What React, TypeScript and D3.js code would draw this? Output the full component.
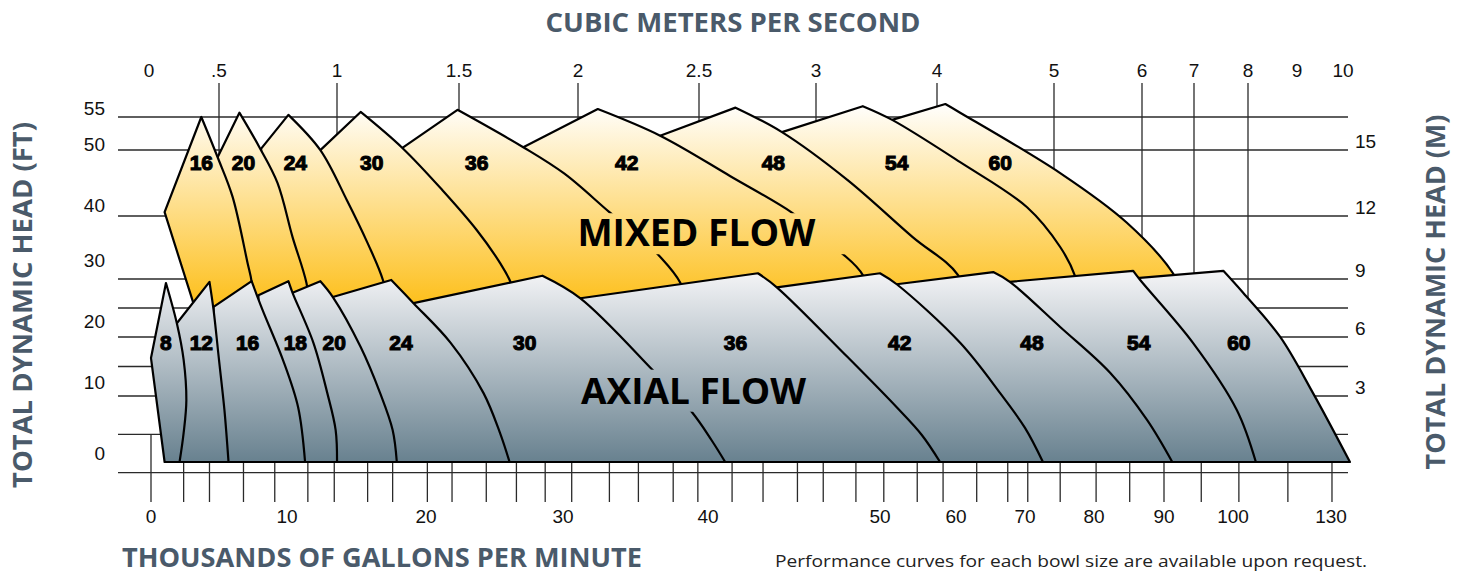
import { curveCatmullRom, line, scaleLinear } from "d3";

// ---- data ------------------------------------------------------------

// bottom axis, thousands of gallons per minute
const gpmTicks = [0, 10, 20, 30, 40, 50, 60, 70, 80, 90, 100, 130];
const gpmMinorTicks = [
  0, 2.4, 4.3, 6.8, 9.1, 11.5, 13.4, 15.8, 17.6, 20.1, 21.9, 24.4, 26.6, 28.7,
  30.6, 33.2, 35.2, 37.6, 39.3, 41.4, 43.2, 45.2, 46.7, 48.6, 50.5, 54.9, 58.3,
  63.0, 67.5, 70.4, 75.1, 80.3, 85.1, 90.0, 95.4, 101.8, 116.8, 130.3,
];

// top axis, cubic meters per second
const cmsTicks = [0, 0.5, 1, 1.5, 2, 2.5, 3, 4, 5, 6, 7, 8, 9, 10];
const cmsLabels = ["0", ".5", "1", "1.5", "2", "2.5", "3", "4", "5", "6", "7", "8", "9", "10"];
const cmsGridTicks = [0.5, 1, 1.5, 2, 2.5, 3, 4, 5, 6, 7, 8];

// left axis (ft) and right axis (m)
const ftTicks = [0, 10, 20, 30, 40, 50, 55];
const mTicks = [3, 6, 9, 12, 15];
const mGridLines = [16.5, 15, 12, 9, 7.5, 6, 4.5, 3, 1.05, -0.9];

type Pt = [number, number]; // [gpm thousands, ft]
interface Bowl {
  left: Pt[];
  peak: Pt;
  right: Pt[];
}

const mixedSizes = [16, 20, 24, 30, 36, 42, 48, 54, 60];
const mixedBowls: Bowl[] = [
  { left: [[3.6, 21], [1.0, 40.3]], peak: [3.7, 55], right: [[4.9, 49.3], [6.0, 42.8], [7.1, 31.1], [7.4, 27.9], [7.6, 21]] },
  { left: [[4.9, 21], [4.9, 49.3]], peak: [6.5, 55.6], right: [[8.0, 50.7], [9.3, 45.1], [10.4, 35.8], [11.4, 27.7], [11.8, 21]] },
  { left: [[8.1, 21], [8.1, 50.6]], peak: [10.1, 55.3], right: [[12.4, 50.4], [14.3, 42.3], [15.8, 34.7], [16.9, 28.2], [17.6, 21]] },
  { left: [[12.4, 21], [12.4, 50.4]], peak: [15.3, 55.7], right: [[18.3, 50.7], [21.2, 43.9], [23.7, 37.1], [25.4, 31.1], [26.2, 27.7], [27.0, 21]] },
  { left: [[18.3, 21], [18.3, 50.7]], peak: [22.3, 56.0], right: [[27.1, 50.8], [30.1, 46.6], [33.2, 40.3], [35.1, 36.2], [36.6, 32.5], [38.1, 27.7], [38.9, 21]] },
  { left: [[27.1, 21], [27.1, 50.8]], peak: [32.4, 56.1], right: [[36.7, 52.4], [41.3, 46.2], [44.9, 40.2], [46.5, 36.2], [47.7, 33.1], [49.0, 29.0], [49.7, 21]] },
  { left: [[36.7, 21], [36.7, 52.4]], peak: [41.6, 56.3], right: [[44.3, 52.9], [48.1, 45.6], [54.3, 35.8], [60.3, 29.0], [62.8, 21]] },
  { left: [[44.3, 21], [44.3, 52.9]], peak: [49.0, 56.5], right: [[51.6, 54.6], [60.6, 48.5], [70.3, 41.1], [75.1, 34.0], [77.2, 29.0], [78.7, 21]] },
  { left: [[51.6, 21], [51.6, 54.6]], peak: [58.6, 56.8], right: [[60.6, 55.6], [75.1, 46.7], [84.7, 38.4], [91.3, 29.3], [94.5, 21]] },
];
const mixedLabelGpm = [3.7, 6.8, 10.6, 16.1, 23.7, 34.4, 43.8, 52.2, 66.4];
const mixedLabelFt = 48.5;

const axialSizes = [8, 12, 16, 18, 20, 24, 30, 36, 42, 48, 54, 60];
const axialBowls: Bowl[] = [
  { left: [[1.0, 0], [0, 15.4]], peak: [1.1, 27.7], right: [[1.9, 21.1], [2.4, 15.1], [2.6, 8.7], [2.4, 4.1], [2.1, 0]] },
  { left: [[1.9, 0], [1.9, 21.1]], peak: [4.3, 27.9], right: [[4.6, 23.3], [5.0, 15.1], [5.4, 7.3], [5.7, 0]] },
  { left: [[4.6, 0], [4.6, 23.8]], peak: [7.4, 28.0], right: [[8.2, 23.3], [9.7, 15.1], [10.8, 7.7], [11.3, 0]] },
  { left: [[7.9, 0], [7.9, 25.7]], peak: [10.1, 28.0], right: [[10.4, 26.1], [11.9, 17.9], [12.9, 9.7], [13.5, 4.5], [13.6, 0]] },
  { left: [[10.4, 0], [10.4, 26.1]], peak: [12.4, 28.0], right: [[13.3, 25.4], [15.3, 17.2], [16.7, 9.7], [17.6, 4.5], [17.9, 0]] },
  { left: [[13.3, 0], [13.3, 25.4]], peak: [17.5, 28.2], right: [[19.1, 24.4], [21.8, 17.9], [24.2, 9.7], [25.4, 4.1], [26.1, 0]] },
  { left: [[19.1, 0], [19.1, 24.4]], peak: [28.5, 28.9], right: [[31.2, 25.2], [36.2, 13.4], [38.9, 7.0], [40.2, 3.1], [41.0, 0]] },
  { left: [[31.2, 0], [31.2, 25.2]], peak: [42.9, 29.3], right: [[44.0, 27.0], [48.1, 15.6], [52.2, 7.7], [55.5, 3.8], [57.9, 0]] },
  { left: [[44.0, 0], [44.0, 27.0]], peak: [50, 29.3], right: [[52.2, 27.5], [60.6, 17.9], [66.4, 9.7], [70, 4.8], [72.6, 0]] },
  { left: [[52.2, 0], [52.2, 27.5]], peak: [65.4, 29.5], right: [[67.8, 27.9], [75.1, 20.5], [82.3, 13.0], [87.6, 5.9], [91.2, 0]] },
  { left: [[67.8, 0], [67.8, 27.9]], peak: [85.6, 29.7], right: [[86.6, 28.2], [94.2, 17.9], [101.2, 7.3], [107.0, 0]] },
  { left: [[86.1, 0], [86.1, 28.5]], peak: [98.6, 29.7], right: [[103.1, 26.1], [114.4, 18.9], [124.5, 9.7], [135.8, 0]] },
];
const axialLabelGpm = [1.1, 3.7, 7.1, 10.6, 13.4, 18.2, 27.2, 41.6, 52.6, 71.0, 86.4, 101.8];
const axialLabelFt = 17.9;

const mixedTitleAt: Pt = [39.2, 36.5];
const axialTitleAt: Pt = [39.0, 9.9];

// ---- layout ----------------------------------------------------------

const W = 1463;
const H = 576;
// the printed axes are not linear, so every scale is piecewise
const gpmPx = [151, 287, 426, 563, 708, 880, 956, 1025, 1094, 1164, 1233, 1331];
const cmsPx = [149, 219, 337, 459, 578, 699, 816, 937, 1054, 1142, 1194, 1248, 1297, 1343];
const ftPx = [462, 391, 330, 269, 214, 153, 117];
const mPx = [396, 337, 279, 216, 150];
const gridLeft = 118;
const gridRight = 1348;

const x = scaleLinear().domain(gpmTicks).range(gpmPx);
const xTop = scaleLinear().domain(cmsTicks).range(cmsPx);
const y = scaleLinear().domain(ftTicks).range(ftPx);
const yM = scaleLinear().domain(mTicks).range(mPx);

const straight = line<Pt>()
  .x((d) => x(d[0]))
  .y((d) => y(d[1]));
const smooth = line<Pt>()
  .x((d) => x(d[0]))
  .y((d) => y(d[1]))
  .curve(curveCatmullRom.alpha(0.5));

const bowlPath = (b: Bowl) => {
  const head = straight([...b.left, b.peak]) ?? "";
  const tail = (smooth([b.peak, ...b.right]) ?? "").replace(/^M[^A-Za-z]*/, "");
  return head + tail + "Z";
};

const TITLE = "#4a5a6a";
const NUM_FONT = "'Liberation Sans', Arial, sans-serif";
const TITLE_FONT = "'Open Sans', 'Noto Sans', sans-serif";

export default function App() {
  const base = y(0);
  return (
    <svg
      width={W}
      height={H}
      viewBox={`0 0 ${W} ${H}`}
      style={{ position: "absolute", left: 0, top: 0, background: "#fff" }}
    >
      <defs>
        <linearGradient id="mixedFill" gradientUnits="userSpaceOnUse" x1={0} x2={0} y1={y(57)} y2={y(24)}>
          <stop offset="0" stopColor="#ffffff" />
          <stop offset="1" stopColor="#fdbf1a" />
        </linearGradient>
        <linearGradient id="axialFill" gradientUnits="userSpaceOnUse" x1={0} x2={0} y1={y(30)} y2={y(0)}>
          <stop offset="0" stopColor="#f6f6f8" />
          <stop offset="1" stopColor="#68818f" />
        </linearGradient>
      </defs>

      {/* grid */}
      {mGridLines.map((v) => (
        <line key={`h${v}`} x1={gridLeft} x2={gridRight} y1={yM(v)} y2={yM(v)} stroke="#2a2a2a" strokeWidth={1.3} />
      ))}
      {cmsGridTicks.map((v) => (
        <line key={`v${v}`} x1={xTop(v)} x2={xTop(v)} y1={83} y2={base} stroke="#2a2a2a" strokeWidth={1.3} />
      ))}
      {gpmMinorTicks.map((v) => (
        <line key={`t${v}`} x1={x(v)} x2={x(v)} y1={yM(1.05)} y2={502} stroke="#2a2a2a" strokeWidth={1.3} />
      ))}

      {/* mixed flow bowls, drawn right to left */}
      {[...mixedBowls].reverse().map((b, i) => (
        <path key={`m${i}`} d={bowlPath(b)} fill="url(#mixedFill)" stroke="#000" strokeWidth={2.2} strokeLinejoin="round" />
      ))}
      {/* axial flow bowls */}
      {[...axialBowls].reverse().map((b, i) => (
        <path key={`a${i}`} d={bowlPath(b)} fill="url(#axialFill)" stroke="#000" strokeWidth={2.2} strokeLinejoin="round" />
      ))}

      {/* bowl sizes */}
      <g fontFamily={NUM_FONT} fontWeight={700} fontSize={21} textAnchor="middle" fill="#000" stroke="#000" strokeWidth={1.1}>
        {mixedSizes.map((s, i) => (
          <text key={`ml${s}`} x={x(mixedLabelGpm[i])} y={y(mixedLabelFt) + 7.5}>
            {s}
          </text>
        ))}
        {axialSizes.map((s, i) => (
          <text key={`al${s}`} x={x(axialLabelGpm[i])} y={y(axialLabelFt) + 7.5}>
            {s}
          </text>
        ))}
      </g>

      {/* region titles, each on a patch of its own fill */}
      <rect x={x(mixedTitleAt[0]) - 124} y={y(mixedTitleAt[1]) - 20} width={273} height={41} fill="url(#mixedFill)" />
      <text
        x={x(mixedTitleAt[0])}
        y={y(mixedTitleAt[1]) + 13}
        textAnchor="middle"
        fontFamily={TITLE_FONT}
        fontWeight={700}
        fontSize={37}
        textLength={238}
        lengthAdjust="spacingAndGlyphs"
        fill="#000"
      >
        MIXED FLOW
      </text>
      <rect x={x(axialTitleAt[0]) - 119} y={y(axialTitleAt[1]) - 22} width={240} height={42} fill="url(#axialFill)" />
      <text
        x={x(axialTitleAt[0])}
        y={y(axialTitleAt[1]) + 12.5}
        textAnchor="middle"
        fontFamily={TITLE_FONT}
        fontWeight={700}
        fontSize={35}
        textLength={225}
        lengthAdjust="spacingAndGlyphs"
        fill="#000"
      >
        AXIAL FLOW
      </text>

      {/* tick labels */}
      <g fontFamily={NUM_FONT} fontSize={19} fill="#111">
        {cmsTicks.map((v, i) => (
          <text key={`cl${v}`} x={xTop(v)} y={77} textAnchor="middle">
            {cmsLabels[i]}
          </text>
        ))}
        {gpmTicks.map((v) => (
          <text key={`gl${v}`} x={x(v)} y={523} textAnchor="middle">
            {v}
          </text>
        ))}
        {ftTicks.map((v) => (
          <text key={`fl${v}`} x={105} y={y(v) - 2} textAnchor="end">
            {v}
          </text>
        ))}
        {mTicks.map((v) => (
          <text key={`ml${v}`} x={1355} y={yM(v) - 2} textAnchor="start">
            {v}
          </text>
        ))}
      </g>

      {/* axis titles */}
      <g fontFamily={TITLE_FONT} fontWeight={700} fontSize={26} fill={TITLE} textAnchor="middle">
        <text x={733} y={32} textLength={375} lengthAdjust="spacingAndGlyphs">
          CUBIC METERS PER SECOND
        </text>
        <text x={382} y={567} textLength={520} lengthAdjust="spacingAndGlyphs">
          THOUSANDS OF GALLONS PER MINUTE
        </text>
        <text transform="translate(32,305) rotate(-90)" textLength={366} lengthAdjust="spacingAndGlyphs">
          TOTAL DYNAMIC HEAD (FT)
        </text>
        <text transform="translate(1445,292) rotate(-90)" textLength={355} lengthAdjust="spacingAndGlyphs">
          TOTAL DYNAMIC HEAD (M)
        </text>
      </g>
      <text
        x={775}
        y={567}
        fontFamily={TITLE_FONT}
        fontSize={17}
        fill="#222"
        textLength={592}
        lengthAdjust="spacingAndGlyphs"
      >
        Performance curves for each bowl size are available upon request.
      </text>
    </svg>
  );
}
